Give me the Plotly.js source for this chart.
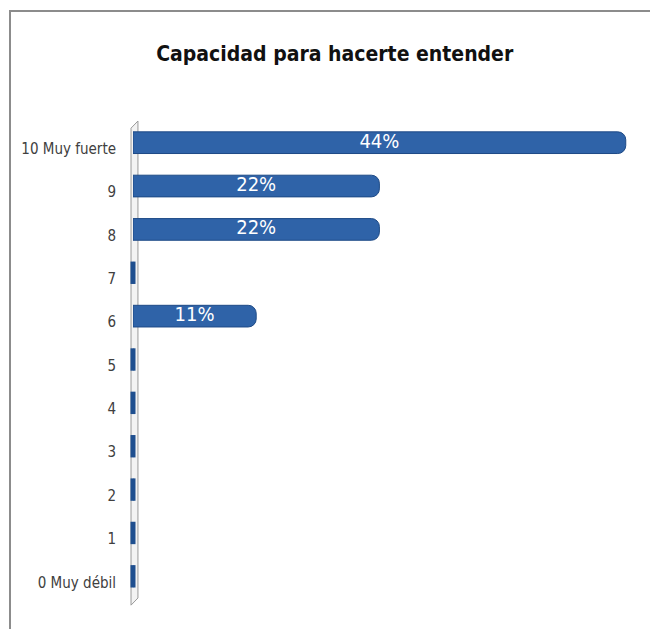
<!DOCTYPE html>
<html>
<head>
<meta charset="utf-8">
<script src="https://cdn.plot.ly/plotly-3.0.1.min.js"></script>
<style>
html,body{margin:0;padding:0;background:#fff;}
#wrap{position:relative;width:650px;height:629px;}
#chart{position:absolute;left:0;top:0;width:650px;height:629px;}
#frame{position:absolute;left:9px;top:10px;width:641px;height:619px;border-left:2px solid #8c8c8c;border-top:2px solid #8c8c8c;pointer-events:none;box-sizing:border-box;}
</style>
</head>
<body>
<div id="wrap"><div id="chart"></div><div id="frame"></div></div>
<script>
const categories = ["0 Muy débil","1","2","3","4","5","6","7","8","9","10 Muy fuerte"];
const values = [0,0,0,0,0,0,11,0,22,22,44];
const labels = values.map(v => v > 0 ? v + "%" : "");

const zeroCats = categories.filter((c,i) => values[i] === 0);
const zeroVals = zeroCats.map(() => 0);
const labelCats = categories.filter((c,i) => values[i] > 0);
const labelX = values.filter(v => v > 0).map(v => v / 2);
const labelText = values.filter(v => v > 0).map(v => v + "%");

const NARROW = "DejaVu Sans Condensed, Liberation Sans Narrow, Arial Narrow, sans-serif";

const data = [
  {
    type: "bar",
    orientation: "h",
    y: categories,
    x: values,
    width: 0.5,
    textposition: "none",
    marker: {color: "#2f63a8", line: {color: "#1e4a86", width: 1}, cornerradius: 8},
    hoverinfo: "skip",
    showlegend: false
  },
  {
    type: "scatter",
    mode: "markers",
    y: zeroCats,
    x: zeroVals,
    marker: {symbol: "line-ns", size: 16, line: {width: 5, color: "#1f4f8f"}},
    hoverinfo: "skip",
    showlegend: false,
    cliponaxis: false
  },
  {
    type: "scatter",
    mode: "text",
    y: labelCats,
    x: labelX,
    text: labelText,
    textposition: "middle center",
    textfont: {family: NARROW, size: 20, color: "#ffffff"},
    hoverinfo: "skip",
    showlegend: false
  }
];

const layout = {
  width: 650,
  height: 629,
  paper_bgcolor: "#ffffff",
  plot_bgcolor: "rgba(0,0,0,0)",
  margin: {l: 133, r: 22, t: 121, b: 31},
  title: {
    text: "Capacidad para hacerte entender",
    x: 0.515, xanchor: "center",
    y: 0.915, yanchor: "middle",
    font: {family: NARROW, size: 21, color: "#111111", weight: "bold"}
  },
  xaxis: {
    range: [0, 44.2],
    showgrid: false,
    zeroline: false,
    showline: false,
    showticklabels: false,
    ticks: ""
  },
  yaxis: {
    type: "category",
    categoryorder: "array",
    categoryarray: categories,
    range: [-0.5, 10.5],
    showgrid: false,
    zeroline: false,
    showline: false,
    ticks: "",
    ticklabelstandoff: 16,
    ticklabelshift: 6,
    tickfont: {family: NARROW, size: 15, color: "#404040"}
  },
  shapes: [
    {type: "path", xref: "paper", yref: "paper",
     path: "M -0.004 -0.015 L -0.004 0.985 L 0.01 1.0 L 0.01 0.0 Z",
     fillcolor: "rgba(235,235,235,0.6)", line: {color: "#9a9a9a", width: 1}, layer: "below"}
  ]
};

Plotly.newPlot("chart", data, layout, {displayModeBar: false, staticPlot: true});
</script>
</body>
</html>
